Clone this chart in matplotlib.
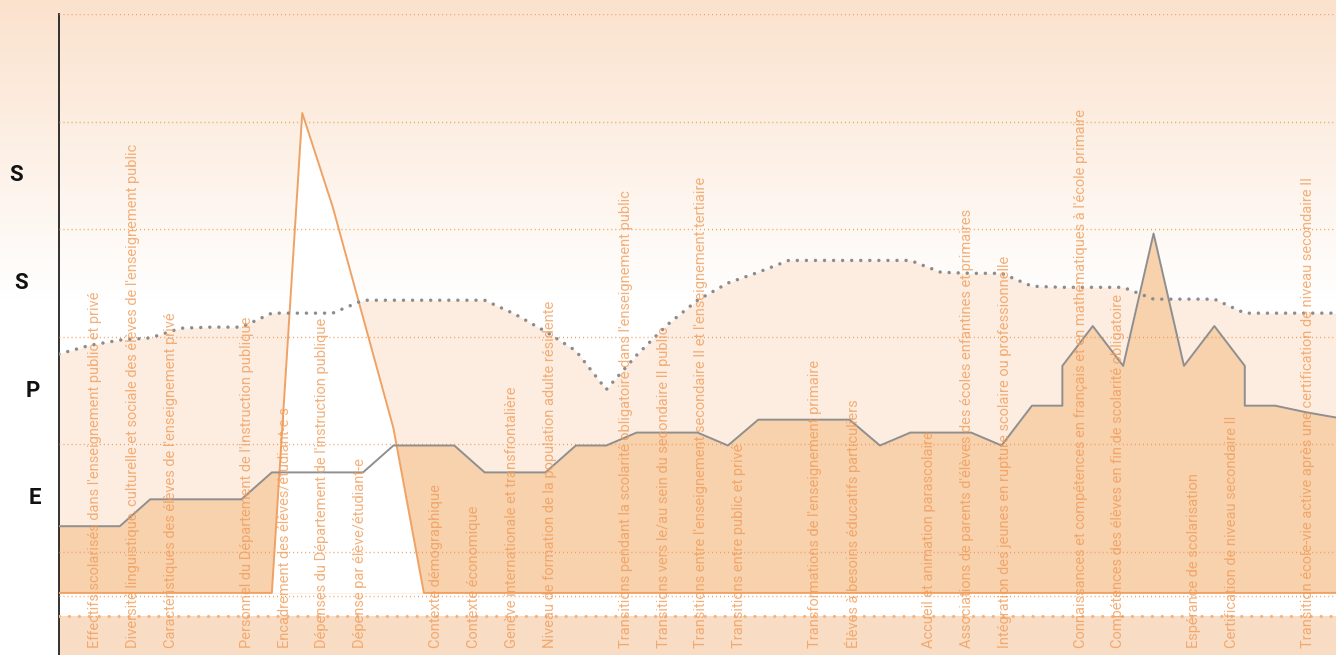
import numpy as np
import matplotlib
matplotlib.use("Agg")
import matplotlib.pyplot as plt
from matplotlib.colors import to_rgb

# ---------------- data ----------------
categories = [
    "Effectifs scolarisés dans l'enseignement public et privé",
    "Diversité linguistique, culturelle et sociale des élèves de l'enseignement public",
    "Caractéristiques des élèves de l'enseignement privé",
    "Personnel du Département de l'instruction publique",
    "Encadrement des élèves/étudiant-e-s",
    "Dépenses du Département de l'instruction publique",
    "Dépense par élève/étudiant-e",
    "Contexte démographique",
    "Contexte économique",
    "Genève internationale et transfrontalière",
    "Niveau de formation de la population adulte résidente",
    "Transitions pendant la scolarité obligatoire dans l'enseignement public",
    "Transitions vers le/au sein du secondaire II public",
    "Transitions entre l'enseignement secondaire II et l'enseignement tertiaire",
    "Transitions entre public et privé",
    "Transformations de l'enseignement primaire",
    "Élèves à besoins éducatifs particuliers",
    "Accueil et animation parascolaire",
    "Associations de parents d'élèves des écoles enfantines et primaires",
    "Intégration des jeunes en rupture scolaire ou professionnelle",
    "Connaissances et compétences en français et en mathématiques à l'école primaire",
    "Compétences des élèves en fin de scolarité obligatoire",
    "Espérance de scolarisation",
    "Certification de niveau secondaire II",
    "Transition école-vie active après une certification de niveau secondaire II",
]
category_slots = [0, 1, 2, 4, 5, 6, 7, 9, 10, 11, 12, 14, 15, 16, 17,
                  19, 20, 22, 23, 24, 26, 27, 29, 30, 32]

level_labels = ["S", "S", "P", "E"]
level_values = [4.5, 3.5, 2.5, 1.5]

# solid grey series (top of dark area)
grey_x = [0, 1, 2, 3, 4, 5, 6, 7, 8, 9, 10, 11, 12, 13, 14, 15, 16, 17, 18, 19,
          20, 21, 22, 23, 24, 25, 26, 27, 28, 29, 30, 31, 32, 33, 33, 34, 35,
          36, 37, 38, 39, 39, 40, 41, 42]
grey_y = [1.24, 1.24, 1.24, 1.49, 1.49, 1.49, 1.49, 1.74, 1.74, 1.74, 1.74,
          1.99, 1.99, 1.99, 1.74, 1.74, 1.74, 1.99, 1.99, 2.11, 2.11, 2.11,
          1.99, 2.23, 2.23, 2.23, 2.23, 1.99, 2.11, 2.11, 2.11, 1.99, 2.36,
          2.36, 2.73, 3.10, 2.73, 3.96, 2.73, 3.10, 2.73, 2.36, 2.36, 2.30, 2.25]

# dotted grey series
dotted_y = [2.84, 2.92, 2.97, 2.99, 3.08, 3.09, 3.09, 3.22, 3.22, 3.22, 3.34,
            3.34, 3.34, 3.34, 3.34, 3.21, 3.05, 2.87, 2.51, 2.83, 3.11, 3.34,
            3.50, 3.60, 3.71, 3.71, 3.71, 3.71, 3.71, 3.60, 3.59, 3.59, 3.47,
            3.46, 3.46, 3.46, 3.35, 3.35, 3.35, 3.22, 3.22, 3.22, 3.22]

# orange outlined series (spike)
baseline = 0.62
orange_y = [0.62, 0.62, 0.62, 0.62, 0.62, 0.62, 0.62, 0.62, 5.08, 4.21, 3.18,
            2.15, 0.62, 0.62, 0.62, 0.62, 0.62, 0.62, 0.62, 0.62, 0.62, 0.62,
            0.62, 0.62, 0.62, 0.62, 0.62, 0.62, 0.62, 0.62, 0.62, 0.62, 0.62,
            0.62, 0.62, 0.62, 0.62, 0.62, 0.62, 0.62, 0.62, 0.62, 0.62]

grid_levels = [6, 5, 4, 3, 2, 1, 0.59]
band_level = 0.405

# ---------------- style ----------------
W, H = 1336, 655
fig = plt.figure(figsize=(W / 100, H / 100), dpi=100)

# background gradient
top = np.array(to_rgb("#fbe2cd"))
white = np.ones(3)
rows = np.arange(H)
frac = np.clip(rows / 300.0, 0, 1)[:, None]
grad = top * (1 - frac) + white * frac
img = np.repeat(grad[:, None, :], 4, axis=1)
bg = fig.add_axes([0, 0, 1, 1], zorder=-10)
bg.imshow(img, aspect="auto", extent=[0, 1, 0, 1])
bg.axis("off")

left_px, top_px = 59, 14
ax = fig.add_axes([left_px / W, 0, (W - left_px) / W, (H - top_px) / H], zorder=1)
ax.set_facecolor("none")
n = len(dotted_y)
xs = np.arange(n)
ax.set_xlim(0, n - 1)
ymin = 0.043
ax.set_ylim(ymin, 6)

light = "#fdede1"
dark = "#f8d1ad"
orange = "#f0a264"
grey = "#8f8f8f"

ax.axhspan(ymin, band_level, color="#f9dcc4", zorder=1, lw=0)
ax.fill_between(xs, baseline, dotted_y, color=light, lw=0, zorder=1)
ax.fill_between(grey_x, baseline, grey_y, color=dark, lw=0, zorder=2)
ax.fill_between(xs, baseline, orange_y, color="white", lw=0, zorder=3)

for g in grid_levels:
    ax.axhline(g, color="#ee9c5c", lw=1.0, linestyle=(0, (0.7, 2.2)), zorder=4)
ax.axhline(band_level, color="#f4b27c", lw=2.3, linestyle=(0, (0.01, 3.1)),
           dash_capstyle="round", zorder=4)

ax.plot(xs, orange_y, color=orange, lw=1.4, zorder=5)
ax.plot(grey_x, grey_y, color=grey, lw=1.4, zorder=6)
ax.plot(xs, dotted_y, color="#8c8c8c", lw=2.5, linestyle=(0, (0.01, 2.6)),
        dash_capstyle="round", zorder=7)

for s in ["top", "right", "bottom"]:
    ax.spines[s].set_visible(False)
ax.spines["left"].set_color("#222222")
ax.spines["left"].set_linewidth(1.3)
ax.set_xticks([])
ax.set_yticks([])

# category labels (second x scale)
ax2 = ax.twiny()
ax2.set_xlim(-0.95, 32.74)
ax2.set_ylim(ymin, 6)
ax2.axis("off")
ax2.set_zorder(2)

fam = ["Liberation Sans Narrow", "Roboto", "DejaVu Sans"]
renderer = fig.canvas.get_renderer()
probe = fig.text(0, 0, categories[1], family=fam, fontsize=10)
wpx = probe.get_window_extent(renderer).width
probe.remove()
fs = 10 * 503.0 / wpx

for slot, lab in zip(category_slots, categories):
    ax2.text(slot, 0.108, lab, rotation=90, ha="center", va="bottom",
             family=fam, fontsize=fs, color="#f09c58", alpha=0.8, zorder=10)

# left level letters
right_edges = [23, 28, 40, 41]
for lab, val, xr in zip(level_labels, level_values, right_edges):
    ypx = 659.6 - val * 107.6
    fig.text(xr / W, 1 - ypx / H, lab, ha="right", va="center",
             family=["Liberation Sans Narrow", "Roboto", "DejaVu Sans"],
             fontweight="bold", fontsize=16, color="#111111")

fig.savefig("out.png", dpi=100)
